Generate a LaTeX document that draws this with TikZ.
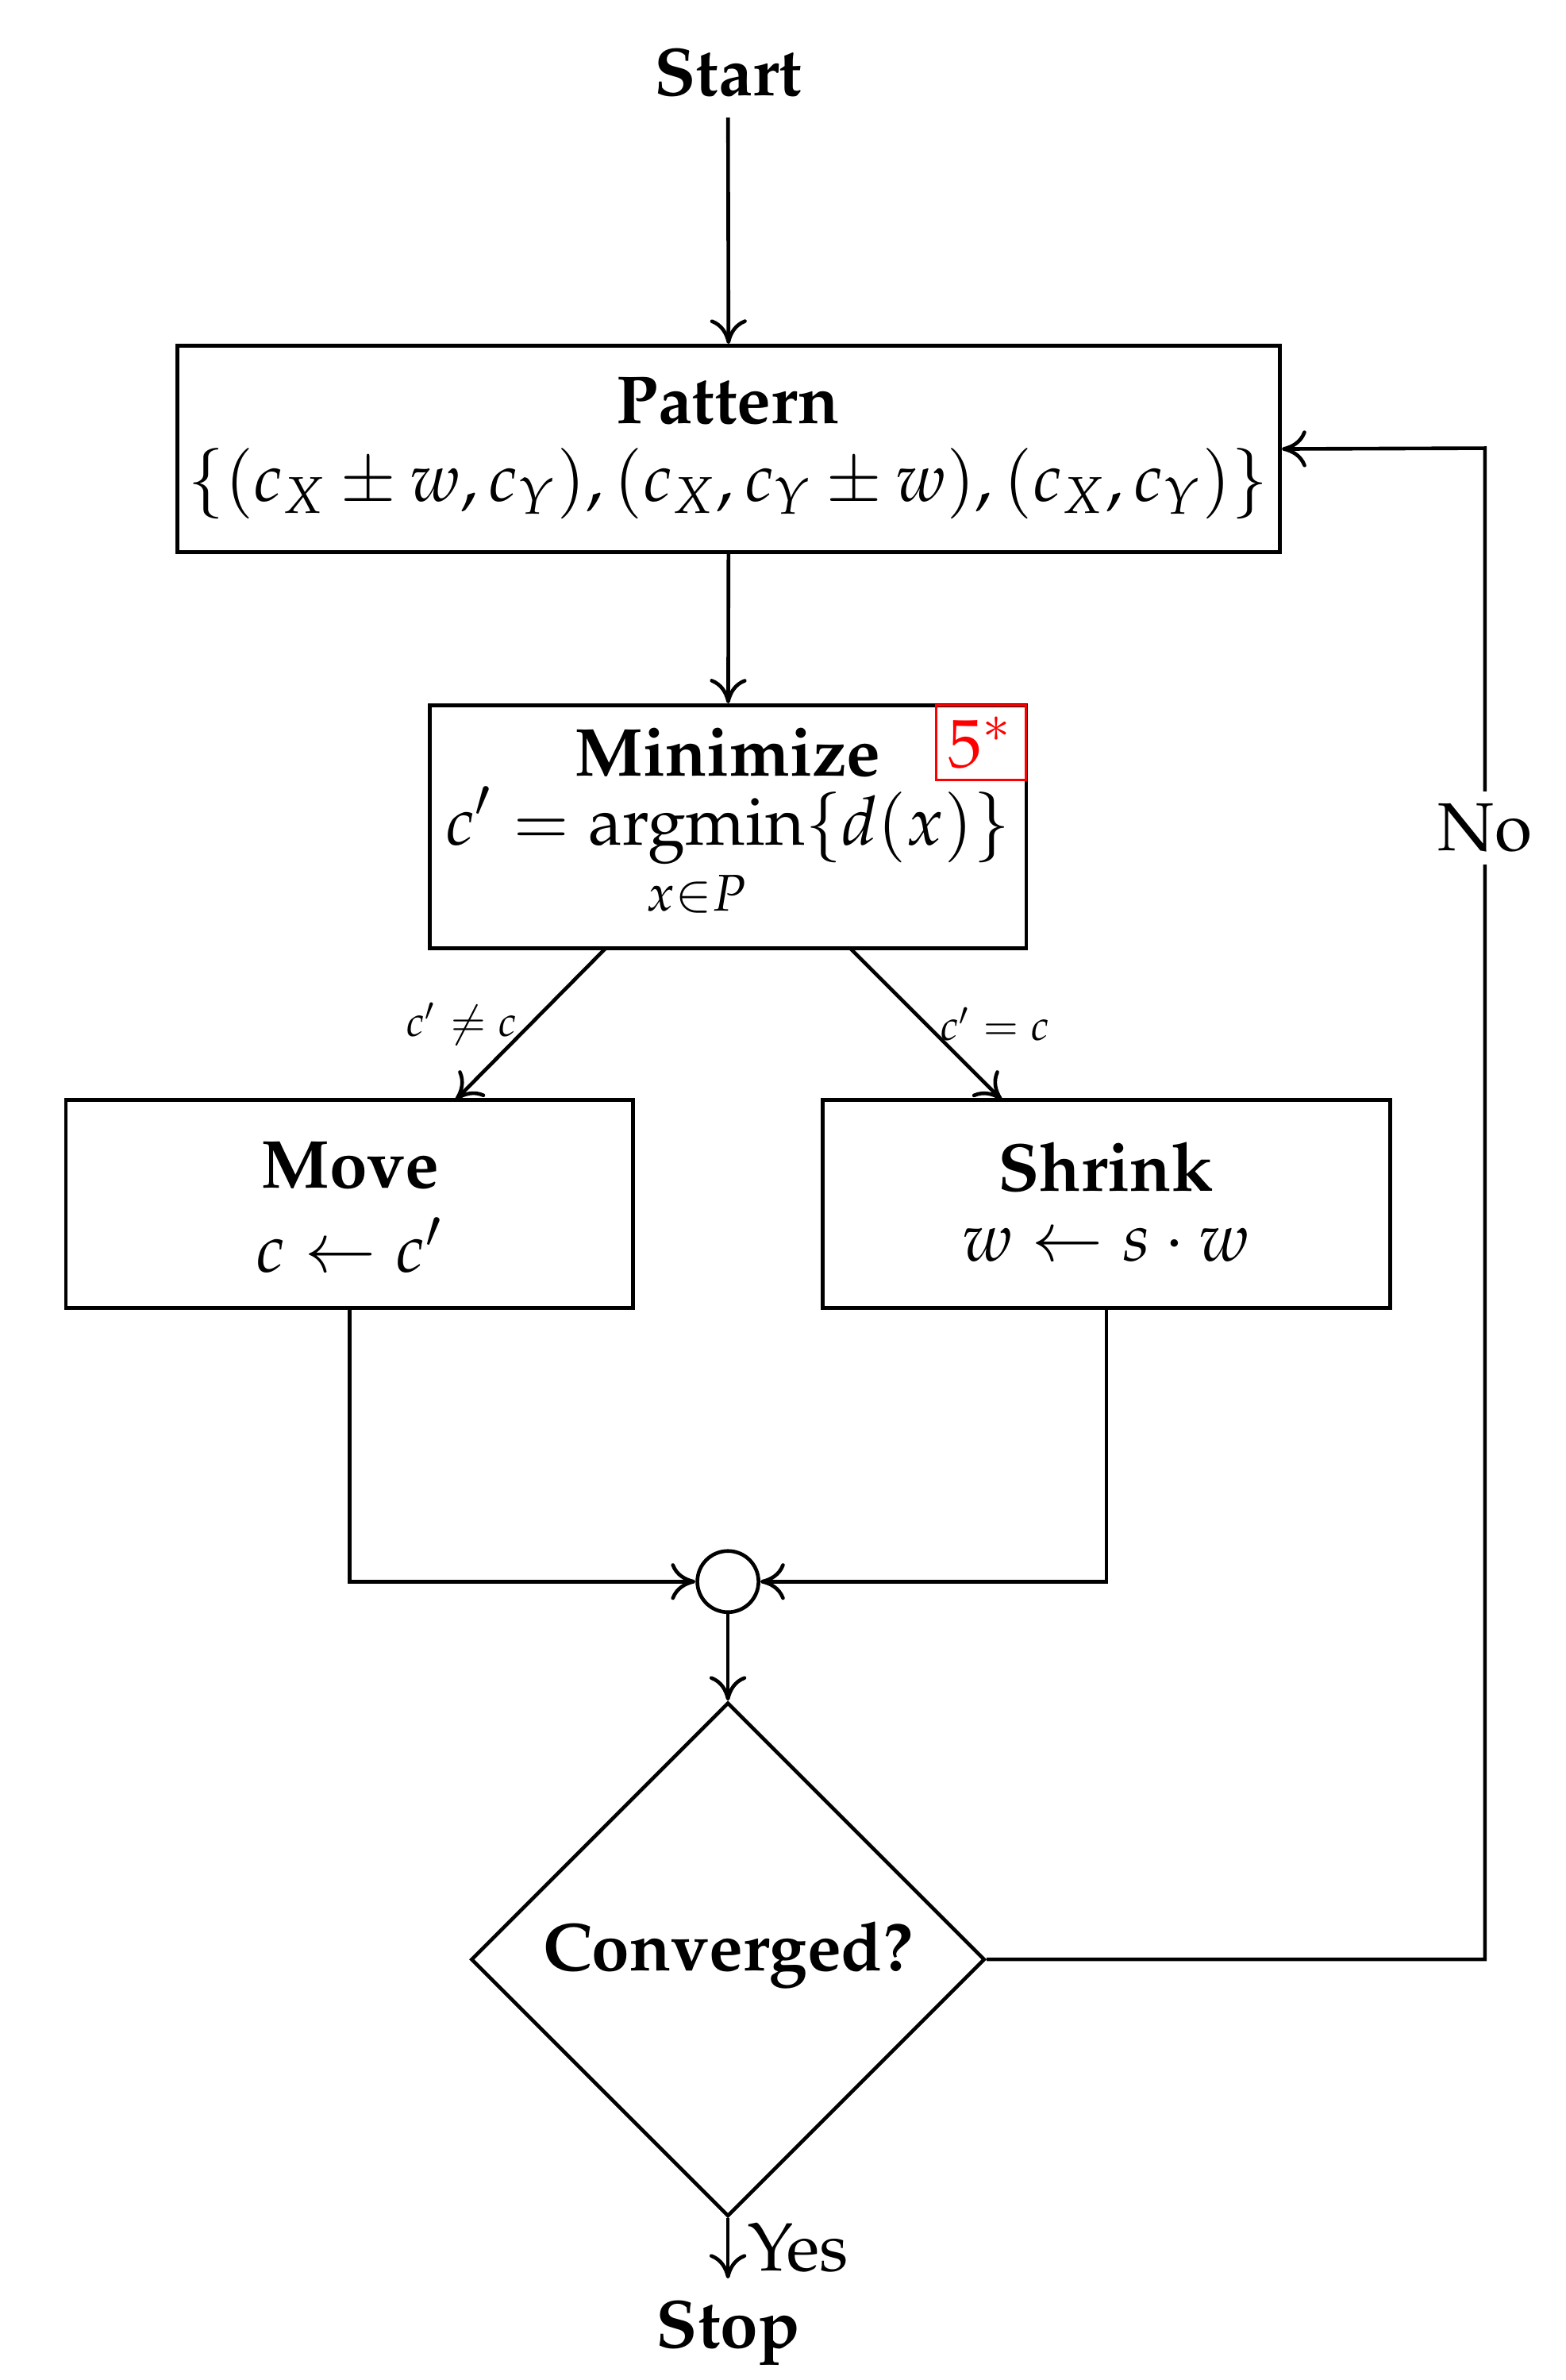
\documentclass[tikz,border=0pt]{standalone}
\usepackage[T1]{fontenc}
\usepackage{mathpazo}
\usepackage{amsmath}
\usetikzlibrary{shapes.geometric,arrows.meta}
\begin{document}
\begin{tikzpicture}[x=0.25pt,y=-0.25pt,
  arr/.style={semithick,-{To[length=4pt,width=6pt]}},
  every node/.style={font=\fontsize{11.1}{13.5}\selectfont}]
\useasboundingbox (0,0) rectangle (1024,1556);
\node (start) at (476,47) {\textbf{Start}};
\node[draw,semithick,minimum width=180.25pt,minimum height=33.75pt,inner sep=0pt] (pat) at (476.5,293.5) {};
\node at (476,262) {\textbf{Pattern}};
\node at (476,316) {$\{(c_X\pm w,c_Y),(c_X,c_Y\pm w),(c_X,c_Y)\}$};
\node[draw,semithick,minimum width=97.5pt,minimum height=39.75pt,inner sep=0pt] (min) at (476,540.5) {};
\node at (476,492) {\textbf{Minimize}};
\node at (476,558) {$\displaystyle c' = \operatorname*{argmin}_{x\in P}\{d(x)\}$};
\node[draw=red,text=red,minimum width=14.75pt,minimum height=12.25pt,inner sep=0pt] (five) at (641.5,485.5) {$5^*$};
\node[draw,semithick,minimum width=92.75pt,minimum height=34pt,inner sep=0pt] (mv) at (228.5,787) {};
\node at (229,762) {\textbf{Move}};
\node at (229,814) {$c\leftarrow c'$};
\node[draw,semithick,minimum width=92.75pt,minimum height=34pt,inner sep=0pt] (sh) at (723.5,787) {};
\node at (723,763) {\textbf{Shrink}};
\node at (723,814) {$w\leftarrow s\cdot w$};
\node[draw,semithick,circle,minimum size=10pt,inner sep=0pt] (j) at (476,1034) {};
\node[draw,semithick,diamond,minimum width=84pt,minimum height=84pt,inner sep=0pt] (dec) at (476,1281) {};
\node at (476,1278) {\textbf{Converged?}};
\node (stop) at (476,1525) {\textbf{Stop}};
\coordinate (a1) at (396,620); \coordinate (a2) at (298,719);
\coordinate (b1) at (556,620); \coordinate (b2) at (655,719);
\draw[arr] (start) -- (pat);
\draw[arr] (pat) -- (min);
\draw[arr] (a1) -- node[pos=0.5,left,font=\scriptsize,inner sep=2pt]{$c'\neq c$} (a2);
\draw[arr] (b1) -- node[pos=0.5,right,font=\scriptsize,inner sep=2pt]{$c'=c$} (b2);
\draw[arr] (mv.south) |- (j.west);
\draw[arr] (sh.south) |- (j.east);
\draw[arr] (j) -- (dec.north);
\draw[arr] (dec.south) -- node[right,inner sep=3pt]{Yes} (stop);
\draw[arr] (dec.east) -| (971,900) -- (971,293) node[pos=0.591,fill=white,inner sep=2pt]{No} -- (pat.east);
\end{tikzpicture}
\end{document}
